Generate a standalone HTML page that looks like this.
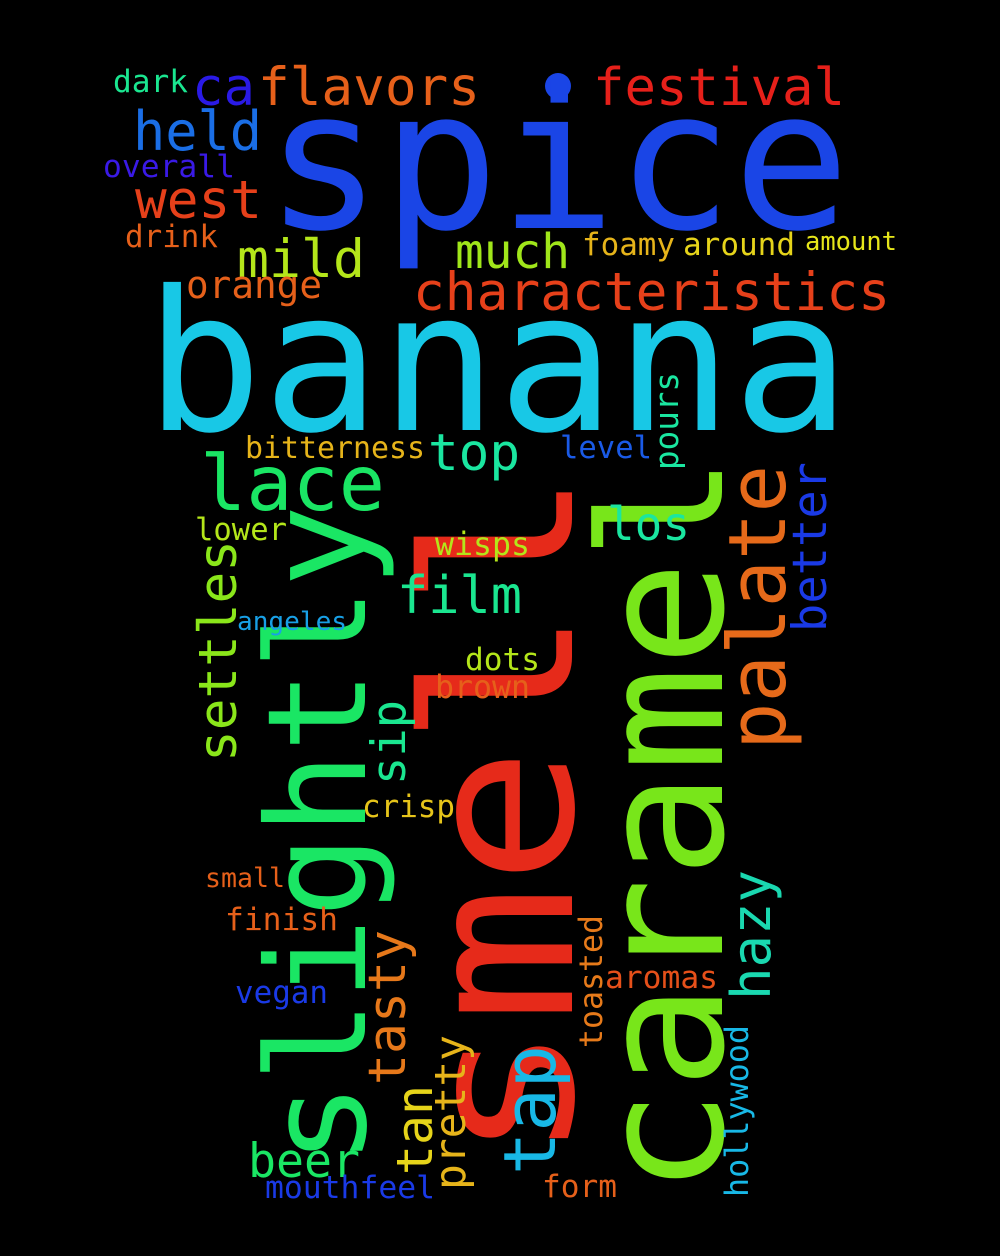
<!DOCTYPE html>
<html><head><meta charset="utf-8"><style>
html,body{margin:0;padding:0;background:#000;}
svg{display:block;}
text{font-family:"DejaVu Sans Mono","Liberation Mono",monospace;}
</style></head><body>
<svg id="cloud" width="1000" height="1256" viewBox="0 0 1000 1256" xmlns="http://www.w3.org/2000/svg">
<rect width="1000" height="1256" fill="#000"/>
<circle cx="558" cy="86" r="13" fill="#1a45e6"/>
</svg>
<script>
const words = ["spice","banana","smell","caramel","slightly","palate","better","settles","tasty","sip","tan","pretty","tap","hazy","toasted","hollywood","pours",
"ca","flavors","dark","festival","held","overall","west","drink","mild","much","foamy","around","amount","characteristics","orange","lace","top","bitterness","level","los","lower","wisps","film","angeles","dots","brown","crisp","small","finish","aromas","vegan","beer","mouthfeel","form"];
const sizes = [194,195,207,171,137,79,47,53,52,47,50,43,72,54,32,32,33,
53,53,31,52,54,31,53,31,53,48,31,31,26,53,38,77,51,30,31,46,31,32,52,26,31,32,31,27,31,31,31,47,31,31];
const colors = ["#1a45e6","#18c8e6","#e62a1a","#78e61a","#1ae664","#e66a1a","#1a3ae6","#8ae61a","#e6781a","#1ae690","#e6d41a","#e6b41a","#18b8e6","#1ad8b0","#e67a1a","#18b8e6","#1ae6a0",
"#2a1ae6","#e6601a","#1ae690","#e6201a","#1a6ee6","#3a1ae6","#e6401a","#e6601a","#b4e61a","#a0e61a","#e6b41a","#e6d41a","#e6e61a","#e6401a","#e6601a","#1ae664","#1ae6a0","#e6b41a","#1a5ae6","#1ae6a0","#b4e61a","#b4e61a","#1ae690","#18a0e6","#b4e61a","#e6601a","#e6c41a","#e6601a","#e6601a","#e6501a","#1a3ae6","#1ae664","#1a3ae6","#e6601a"];
// layout: [x, y, length, rotated]
const layout = [[265,228,585,0],[145,430,705,0],[572,1162,692,1],[722,1195,740,1],[365,1165,660,1],[785,750,285,1],[826,632,170,1],[236,762,222,1],[405,1085,155,1],[405,785,85,1],[432,1175,90,1],[465,1190,155,1],[555,1175,130,1],[770,1000,130,1],[602,1048,133,1],[748,1197,172,1],[678,470,98,1],
[192,105,63,0],[258,105,222,0],[113,92,75,0],[593,105,252,0],[133,150,129,0],[103,177,132,0],[135,218,127,0],[125,247,93,0],[237,277,128,0],[455,268,115,0],[582,255,93,0],[683,255,112,0],[805,250,92,0],[413,310,477,0],[186,298,136,0],[200,510,185,0],[428,470,92,0],[245,458,180,0],[560,458,92,0],[607,540,83,0],[195,540,92,0],[435,555,95,0],[397,613,125,0],[237,630,110,0],[465,670,75,0],[435,698,95,0],[362,817,93,0],[205,887,80,0],[225,930,113,0],[605,988,113,0],[235,1003,93,0],[248,1177,112,0],[265,1198,170,0],[542,1197,75,0]];
const svg = document.getElementById('cloud');
words.forEach((w,i)=>{
  const [x,y,len,rot] = layout[i];
  const t = document.createElementNS('http://www.w3.org/2000/svg','text');
  
  
  t.setAttribute('x', x);
  t.setAttribute('y', y);
  t.setAttribute('font-size', sizes[i]);
  t.setAttribute('fill', colors[i]);
  t.setAttribute('textLength', len);
  t.setAttribute('lengthAdjust', 'spacingAndGlyphs');
  if (rot) t.setAttribute('transform', 'rotate(-90 ' + x + ' ' + y + ')');
  t.textContent = w;
  svg.appendChild(t);
});
</script>
</body></html>
